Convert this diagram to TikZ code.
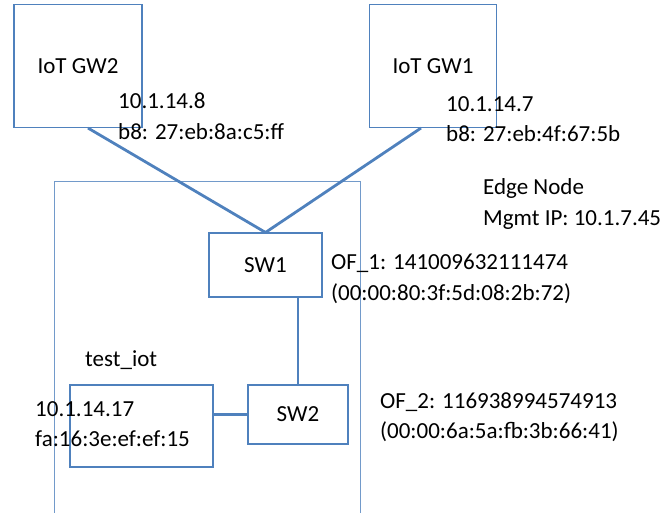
\documentclass[tikz,border=0pt]{standalone}
\usepackage{fontspec}
\setmainfont{Carlito}
\usepackage{tikz}
\usetikzlibrary{positioning,calc}
\definecolor{linkblue}{RGB}{79,129,189}

\begin{document}
\begin{tikzpicture}[
            x=1pt,y=-1pt,
            font=\fontsize{23}{30.5}\selectfont,
            devbox/.style={rectangle,draw=linkblue,line width=1.1pt,inner sep=0pt},
            link/.style={draw=linkblue,line width=2.8pt},
            info/.style={anchor=west,align=left,inner sep=0pt}
          ]
          \useasboundingbox (0,0) rectangle (669,513);
          % edge node frame
          \node[rectangle,draw=linkblue!80,line width=0.8pt,minimum width=306pt,minimum height=332pt,inner sep=0pt] (edge) at (207,347) {};
          \node[info] (edgelbl) at (483,204) {Edge Node\\Mgmt IP: 10.1.7.45};
          % gateways
          \node[devbox,minimum width=128pt,minimum height=123pt] (gw2) at (78,66) {IoT GW2};
          \node[devbox,minimum width=127pt,minimum height=123pt] (gw1) at (433,66) {IoT GW1};
          \node[info] (gw2lbl) at (118,116) {10.1.14.8\\b8: 27:eb:8a:c5:ff};
          \node[info] (gw1lbl) at (446,119) {10.1.14.7\\b8: 27:eb:4f:67:5b};
          % switches
          \node[devbox,fill=white,minimum width=113pt,minimum height=64pt] (sw1) at (265.5,265) {SW1};
          \node[devbox,fill=white,minimum width=100pt,minimum height=59pt] (sw2) at (298,414.5) {SW2};
          \node[info] (of1) at (331,279) {OF\_1: 141009632111474\\(00:00:80:3f:5d:08:2b:72)};
          \node[info] (of2) at (380,417) {OF\_2: 116938994574913\\(00:00:6a:5a:fb:3b:66:41)};
          % vm
          \node[devbox,minimum width=143pt,minimum height=82pt] (vm) at (141.5,426) {};
          \node[anchor=west,inner sep=0pt] (vmname) at (85,360) {test\_iot};
          \node[info] (vmlbl) at (35,424) {10.1.14.17\\fa:16:3e:ef:ef:15};
          % links
          \draw[link] ([xshift=10pt]gw2.south) -- (sw1.north);
          \draw[link] ([xshift=-12pt]gw1.south) -- (sw1.north);
          \draw[link] (sw2.north) -- (sw2.north |- sw1.south);
          \draw[link] (sw2.west) -- (sw2.west -| vm.east);
        \end{tikzpicture}
\end{document}
